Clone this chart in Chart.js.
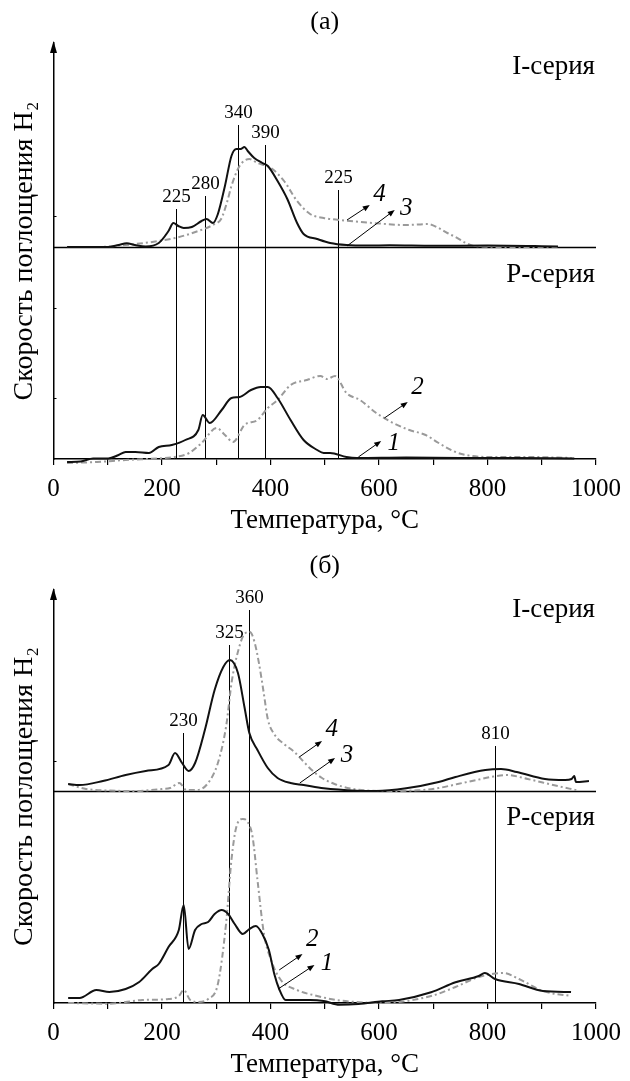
<!DOCTYPE html>
<html>
<head>
<meta charset="utf-8">
<script src="https://cdn.jsdelivr.net/npm/chart.js@4.4.1/dist/chart.umd.min.js"></script>
<style>
  body { margin: 0; background: #fff; }
  canvas { display: block; }
</style>
</head>
<body>
<canvas id="chartA" width="630" height="545"></canvas>
<canvas id="chartB" width="630" height="536"></canvas>
<script>
// ---- panel (а): I-series (curves 3, 4) and P-series (curves 1, 2) ----
var tempA3 = [25, 60, 100, 120, 135, 150, 170, 194, 212, 221, 230, 240, 255, 273, 282, 294, 303, 316, 328, 337, 345, 352, 358, 370, 385, 395, 413, 431, 449, 461, 486, 510, 540, 580, 620, 700, 800, 930];
var valA3  = [0, 0, 0, 2, 3.7, 2, 0.5, 4, 16, 24, 21, 19, 20, 26, 28, 24, 33, 61, 91, 98, 98, 100, 96, 89, 84, 81, 66, 48, 24, 13, 8, 4, 2, 1.5, 1.7, 1.2, 1.5, 0.5];
var tempA4 = [25, 80, 133, 194, 224, 267, 297, 309, 320, 328, 343, 361, 376, 401, 425, 449, 473, 498, 528, 589, 650, 690, 710, 726, 741, 760, 775, 850, 930];
var valA4  = [0, 0, 2, 6, 9, 16, 23, 28, 45, 61, 81, 88, 84, 79, 66, 46, 33, 29, 27, 24, 22, 23, 19, 14, 10, 4, 1, 0, 0];
var tempA1 = [25, 50, 73, 101, 120, 133, 151, 176, 194, 218, 243, 267, 275, 288, 310, 328, 343, 364, 382, 395, 413, 437, 461, 486, 498, 510, 540, 559, 650, 750, 850, 960];
var valA1  = [-3, -2.5, 0.5, 0.5, 4, 7, 7, 6, 12, 14, 19, 29, 44, 36, 49, 61, 62, 69, 72, 72, 61, 39, 19, 9, 6, 6, 2, 1, 1.5, 1, 1, 0.5];
var tempA2 = [25, 80, 133, 194, 224, 250, 273, 301, 316, 331, 352, 376, 395, 413, 437, 467, 492, 504, 519, 540, 565, 595, 626, 656, 686, 710, 741, 760, 800, 880, 955];
var valA2  = [-4, -3, -1, 0.7, 2, 6, 16, 31, 24, 17, 34, 39, 51, 59, 74, 79, 83, 80, 83, 66, 59, 46, 36, 29, 24, 16, 7, 4, 2, 2, 1];
var markTempA  = [225, 280, 340, 390, 525];
var markTopA   = [250, 263, 334, 314, 269];
var markLabelA = ['225', '280', '340', '390', '225'];

// ---- panel (б) ----
var tempB3 = [27, 48, 91, 133, 170, 212, 224, 237, 249, 261, 279, 297, 313, 325, 340, 352, 361, 376, 395, 413, 437, 461, 498, 559, 595, 650, 710, 741, 796, 825, 854, 906, 943, 955, 960, 963, 987];
var valB3  = [7, 6, 10, 16, 20, 26, 38, 28, 20, 28, 61, 101, 124, 131, 118, 84, 58, 41, 23, 13, 8, 6, 2.7, 0.3, 0, 2.7, 9, 14, 21, 22, 19, 12, 11, 12, 15, 9, 10];
var tempB4 = [27, 60, 100, 150, 200, 215, 232, 245, 265, 285, 303, 318, 329, 344, 352, 362, 370, 379, 387, 395, 408, 425, 444, 460, 474, 495, 518, 547, 562, 600, 672, 710, 745, 780, 806, 835, 874, 921, 965];
var valB4  = [7, 2, 0.5, 0, 2, 3, 8, 1, 1, 8, 28, 64, 111, 147, 157, 159, 150, 127, 100, 72, 56, 47, 39, 30, 22, 13, 7, 2.5, 1.3, 0, 0.7, 3, 7, 11, 14, 16, 12, 6, 0.7];
var tempB1 = [27, 48, 79, 103, 133, 158, 182, 194, 212, 231, 240, 249, 261, 273, 285, 297, 310, 322, 334, 349, 361, 373, 385, 397, 407, 416, 428, 449, 473, 498, 527, 562, 606, 637, 696, 741, 784, 795, 814, 858, 902, 954];
var valB1  = [5, 5, 13, 11, 14, 21, 34, 39, 56, 73, 98, 54, 73, 79, 81, 89, 93, 89, 79, 69, 74, 77, 69, 53, 29, 14, 3, 3, 3, 2, -1.7, -1, 1.7, 3, 10.7, 20.7, 27, 30, 24, 19, 12, 11];
var tempB2 = [27, 103, 164, 212, 231, 240, 252, 267, 285, 303, 318, 328, 337, 349, 358, 367, 376, 388, 401, 419, 449, 486, 522, 559, 606, 696, 741, 784, 829, 858, 902, 954];
var valB2  = [0, -0.7, 3, 4, 7, 13, 3, 1, 4, 19, 79, 143, 176, 184, 181, 166, 123, 69, 43, 23, 13, 7, 3, 1, 0, 7, 16, 26, 30, 24, 12, 7];
var markTempB  = [238, 323, 360, 813];
var markTopB   = [270, 358, 393, 257];
var markLabelB = ['230', '325', '360', '810'];

var xTicks = [0, 200, 400, 600, 800, 1000];

var FONT = '"Liberation Serif", "Times New Roman", serif';
var GREY = '#9a9a9a';

function pts(t, v) {
    return t.map(function (x, i) { return { x: x, y: v[i] }; });
}

function arrow(ctx, x0, y0, x1, y1, head) {
    var a = Math.atan2(y1 - y0, x1 - x0);
    ctx.beginPath();
    ctx.moveTo(x0, y0);
    ctx.lineTo(x1 - Math.cos(a) * head * 0.8, y1 - Math.sin(a) * head * 0.8);
    ctx.stroke();
    ctx.beginPath();
    ctx.moveTo(x1, y1);
    ctx.lineTo(x1 - head * Math.cos(a) + head * 0.4 * Math.sin(a), y1 - head * Math.sin(a) - head * 0.4 * Math.cos(a));
    ctx.lineTo(x1 - head * Math.cos(a) - head * 0.4 * Math.sin(a), y1 - head * Math.sin(a) + head * 0.4 * Math.cos(a));
    ctx.closePath();
    ctx.fill();
}

// axes decorations, marker lines and curve numbers
var decor = {
    id: 'decor',
    beforeDatasetsDraw: function (chart, args, o) {
        var ctx = chart.ctx, ca = chart.chartArea;
        var x = chart.scales.x, yP = chart.scales.yP, yI = chart.scales.yI;
        ctx.save();
        ctx.strokeStyle = '#000';
        ctx.fillStyle = '#000';
        ctx.lineWidth = 1.3;
        var ym = Math.round(yI.getPixelForValue(0)) + 0.5;
        ctx.beginPath();
        ctx.moveTo(ca.left, ym);
        ctx.lineTo(ca.right, ym);
        ctx.stroke();
        ctx.lineWidth = 1;
        ctx.font = '19px ' + FONT;
        ctx.textAlign = 'center';
        ctx.textBaseline = 'middle';
        o.markTemp.forEach(function (t, i) {
            var px = Math.round(x.getPixelForValue(t)) + 0.5;
            var top = yP.getPixelForValue(o.markTop[i]);
            ctx.beginPath();
            ctx.moveTo(px, top);
            ctx.lineTo(px, ca.bottom);
            ctx.stroke();
            ctx.fillText(o.markLabel[i], px, top - 12);
        });
        ctx.restore();
    },
    afterDraw: function (chart, args, o) {
        var ctx = chart.ctx, ca = chart.chartArea;
        var x = chart.scales.x, yP = chart.scales.yP, yI = chart.scales.yI;
        ctx.save();
        ctx.fillStyle = '#000';
        ctx.strokeStyle = '#000';
        // arrow head on the y axis
        var ax = ca.left;
        ctx.beginPath();
        ctx.moveTo(ax, ca.top - 2);
        ctx.lineTo(ax - 3.5, ca.top + 10);
        ctx.lineTo(ax + 3.5, ca.top + 10);
        ctx.closePath();
        ctx.fill();
        // small marks on the y axis
        ctx.lineWidth = 1;
        o.yMarksP.forEach(function (v) {
            var py = Math.round(yP.getPixelForValue(v)) + 0.5;
            ctx.beginPath(); ctx.moveTo(ax, py); ctx.lineTo(ax + 3, py); ctx.stroke();
        });
        o.yMarksI.forEach(function (v) {
            var py = Math.round(yI.getPixelForValue(v)) + 0.5;
            ctx.beginPath(); ctx.moveTo(ax, py); ctx.lineTo(ax + 3, py); ctx.stroke();
        });
        // series names
        ctx.font = '27px ' + FONT;
        ctx.textAlign = 'right';
        ctx.textBaseline = 'middle';
        ctx.fillText('I-серия', ca.right - 1, yI.getPixelForValue(o.nameI));
        ctx.fillText('P-серия', ca.right - 1, yP.getPixelForValue(o.nameP));
        // curve numbers with arrows
        ctx.font = 'italic 25px ' + FONT;
        ctx.textAlign = 'center';
        ctx.lineWidth = 1;
        o.tags.forEach(function (g) {
            var ys = g.axis === 'yI' ? yI : yP;
            arrow(ctx, x.getPixelForValue(g.x0), ys.getPixelForValue(g.y0),
                x.getPixelForValue(g.x1), ys.getPixelForValue(g.y1), 7);
            ctx.fillText(g.n, x.getPixelForValue(g.tx), ys.getPixelForValue(g.ty));
        });
        ctx.restore();
    }
};

function makePanel(id, title, sets, p) {
    var ctx = document.getElementById(id).getContext('2d');
    var lineSet = function (label, data, axis, solid) {
        return {
            label: label,
            data: data,
            yAxisID: axis,
            borderColor: solid ? '#111' : GREY,
            borderWidth: 2,
            borderDash: solid ? [] : [6, 3, 2, 3],
            pointRadius: 0,
            cubicInterpolationMode: 'monotone',
            fill: false,
            clip: 10
        };
    };
    return new Chart(ctx, {
        type: 'line',
        data: {
            datasets: [
                lineSet('3', sets.c3, 'yI', true),
                lineSet('1', sets.c1, 'yP', true),
                lineSet('4', sets.c4, 'yI', false),
                lineSet('2', sets.c2, 'yP', false)
            ]
        },
        options: {
            responsive: false,
            animation: false,
            devicePixelRatio: 1,
            layout: { padding: { left: 0, right: 28, top: 0, bottom: p.padBottom } },
            plugins: {
                legend: { display: false },
                tooltip: { enabled: false },
                title: {
                    display: true,
                    text: title,
                    fullSize: false,
                    color: '#000',
                    font: { family: FONT, size: 26, weight: 'normal' },
                    lineHeight: 1.2,
                    padding: { top: p.titleTop, bottom: p.titleBottom }
                },
                decor: p.decor
            },
            scales: {
                x: {
                    type: 'linear',
                    min: 0,
                    max: 1000,
                    afterBuildTicks: function (s) {
                        s.ticks = [];
                        for (var v = 0; v <= 1000; v += 100) s.ticks.push({ value: v });
                    },
                    afterFit: function (s) { s.height = 78; },
                    ticks: {
                        autoSkip: false,
                        maxRotation: 0,
                        padding: 9,
                        color: '#000',
                        font: { family: FONT, size: 25 },
                        callback: function (v) { return xTicks.indexOf(v) >= 0 ? String(v) : ''; }
                    },
                    grid: { drawOnChartArea: false, drawTicks: true, tickLength: 6, color: '#000', lineWidth: 1.2 },
                    border: { color: '#000', width: 1.5 },
                    title: {
                        display: true,
                        text: 'Температура, °C',
                        color: '#000',
                        font: { family: FONT, size: 27 },
                        padding: { top: 0, bottom: 0 }
                    }
                },
                yP: {
                    type: 'linear',
                    position: 'left',
                    min: 0,
                    max: p.yMax,
                    afterFit: function (s) { s.width = 53.5; },
                    ticks: { display: false },
                    grid: { drawOnChartArea: false, drawTicks: false },
                    border: { color: '#000', width: 1.5 },
                    title: {
                        display: true,
                        text: 'Скорость поглощения H₂',
                        color: '#000',
                        font: { family: FONT, size: 28 },
                        padding: { top: 8, bottom: 0 }
                    }
                },
                yI: {
                    type: 'linear',
                    position: 'left',
                    display: false,
                    min: p.iMin,
                    max: p.iMax
                }
            }
        },
        plugins: [decor]
    });
}

makePanel('chartA', '(а)', {
    c3: pts(tempA3, valA3), c4: pts(tempA4, valA4),
    c1: pts(tempA1, valA1), c2: pts(tempA2, valA2)
}, {
    padBottom: 8, titleTop: 7, titleBottom: 4.8,
    yMax: 416, iMin: -212, iMax: 204,
    decor: {
        markTemp: markTempA, markTop: markTopA, markLabel: markLabelA,
        yMarksP: [61, 151], yMarksI: [31],
        nameI: 180, nameP: 184,
        tags: [
            { n: '4', axis: 'yI', x0: 541, y0: 27, x1: 583, y1: 42, tx: 601, ty: 53 },
            { n: '3', axis: 'yI', x0: 541, y0: 1, x1: 629, y1: 37, tx: 650, ty: 39 },
            { n: '2', axis: 'yP', x0: 610, y0: 41, x1: 653, y1: 57, tx: 671, ty: 72 },
            { n: '1', axis: 'yP', x0: 562, y0: 2, x1: 604, y1: 18, tx: 627, ty: 16 }
        ]
    }
});

makePanel('chartB', '(б)', {
    c3: pts(tempB3, valB3), c4: pts(tempB4, valB4),
    c1: pts(tempB1, valB1), c2: pts(tempB2, valB2)
}, {
    padBottom: 0, titleTop: 6, titleBottom: 7.8,
    yMax: 413, iMin: -212, iMax: 201,
    decor: {
        markTemp: markTempB, markTop: markTopB, markLabel: markLabelB,
        yMarksP: [], yMarksI: [30],
        nameI: 181, nameP: 185,
        tags: [
            { n: '4', axis: 'yI', x0: 453, y0: 34, x1: 495, y1: 50, tx: 513, ty: 62 },
            { n: '3', axis: 'yI', x0: 454, y0: 8, x1: 519, y1: 33, tx: 541, ty: 36 },
            { n: '2', axis: 'yP', x0: 416, y0: 33, x1: 459, y1: 49, tx: 477, ty: 64 },
            { n: '1', axis: 'yP', x0: 414, y0: 14, x1: 481, y1: 38, tx: 504, ty: 40 }
        ]
    }
});
</script>
</body>
</html>
